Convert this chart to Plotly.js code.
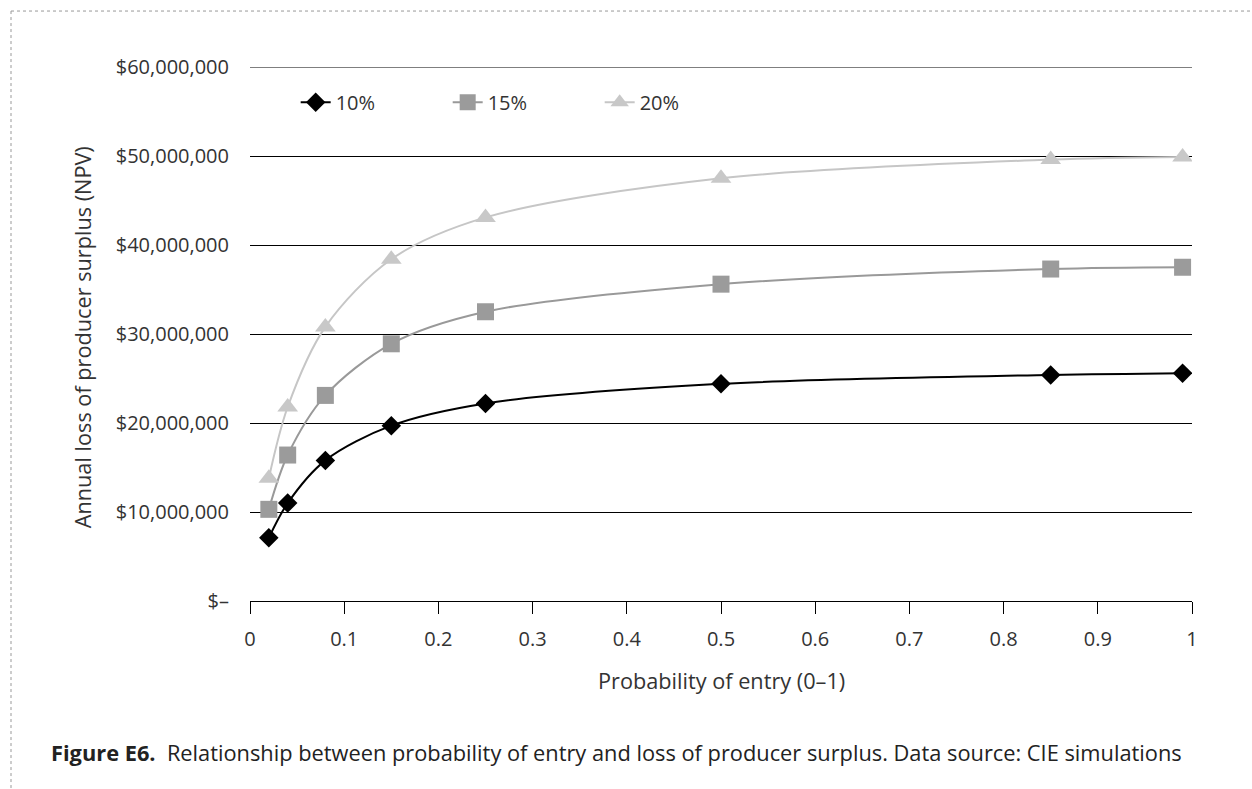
<!DOCTYPE html>
<html>
<head>
<meta charset="utf-8">
<script src="https://cdn.plot.ly/plotly-3.0.1.min.js"></script>
<style>html,body{margin:0;padding:0;background:#fff;}#chart{width:1252px;height:789px;}</style>
</head>
<body>
<div id="chart"></div>
<script>
const probability = [0.02, 0.04, 0.08, 0.15, 0.25, 0.5, 0.85, 0.99];
const loss10 = [7.1e6, 11.0e6, 15.8e6, 19.7e6, 22.2e6, 24.4e6, 25.4e6, 25.6e6];
const loss15 = [10.3e6, 16.4e6, 23.1e6, 28.9e6, 32.5e6, 35.6e6, 37.3e6, 37.5e6];
const loss20 = [13.8e6, 21.8e6, 30.8e6, 38.4e6, 43.1e6, 47.5e6, 49.6e6, 49.9e6];
const seriesNames = ['10%', '15%', '20%'];
const yTickVals = [0, 1e7, 2e7, 3e7, 4e7, 5e7, 6e7];
const yTickText = ['$–', '$10,000,000', '$20,000,000', '$30,000,000', '$40,000,000', '$50,000,000', '$60,000,000'];
const xTickVals = [0, 0.1, 0.2, 0.3, 0.4, 0.5, 0.6, 0.7, 0.8, 0.9, 1];
const xTickText = ['0', '0.1', '0.2', '0.3', '0.4', '0.5', '0.6', '0.7', '0.8', '0.9', '1'];

const FONT = '"Open Sans", "Noto Sans", sans-serif';
const styles = [
  {line: '#000000', marker: '#000000', symbol: 'diamond', size: 15},
  {line: '#999999', marker: '#9b9b9b', symbol: 'square', size: 17},
  {line: '#c6c6c6', marker: '#c8c8c8', symbol: 'triangle-up', size: 18}
];
const ys = [loss10, loss15, loss20];
const traces = ys.map((y, i) => ({
  x: probability, y: y, name: seriesNames[i], type: 'scatter', mode: 'lines+markers',
  line: {color: styles[i].line, width: 2, shape: 'spline', smoothing: 0.9},
  marker: {color: styles[i].marker, symbol: styles[i].symbol, size: styles[i].size, line: {width: 0}}
}));

const layout = {
  width: 1252, height: 789,
  margin: {l: 250, r: 60, t: 67, b: 188},
  paper_bgcolor: '#fff', plot_bgcolor: '#fff',
  font: {family: FONT, color: '#333', size: 20},
  showlegend: true,
  legend: {orientation: 'h', x: 0.0485, y: 0.934, xanchor: 'left', yanchor: 'middle',
    font: {family: FONT, size: 20, color: '#333'}, bgcolor: 'rgba(0,0,0,0)',
    entrywidth: 107, entrywidthmode: 'pixels', traceorder: 'normal'},
  xaxis: {range: [0, 1], tickvals: xTickVals, ticktext: xTickText, showgrid: false, zeroline: false,
    showline: true, linecolor: '#000', linewidth: 1, ticks: 'outside', ticklen: 12, tickcolor: '#000',
    ticklabelstandoff: 8,
    tickfont: {family: FONT, size: 20, color: '#333'}, fixedrange: true},
  yaxis: {range: [0, 6e7], tickvals: yTickVals, ticktext: yTickText, showgrid: true, gridcolor: '#000', gridwidth: 1,
    zeroline: false, showline: false, ticks: '', ticklabelstandoff: 20,
    tickfont: {family: FONT, size: 20, color: '#333'}, fixedrange: true},
  annotations: [
    {text: 'Annual loss of producer surplus (NPV)', xref: 'paper', yref: 'paper', x: -0.1783, y: 0.494,
      textangle: -90, showarrow: false, xanchor: 'center', yanchor: 'middle', font: {family: FONT, size: 21.7, color: '#333'}},
    {text: 'Probability of entry (0–1)', xref: 'paper', yref: 'paper', x: 0.5, y: -0.1498,
      showarrow: false, xanchor: 'center', yanchor: 'middle', font: {family: FONT, size: 21.7, color: '#333'}},
    {text: '<b>Figure E6.</b>  Relationship between probability of entry and loss of producer surplus. Data source: CIE simulations',
      xref: 'paper', yref: 'paper', x: -0.2134, y: -0.2846, showarrow: false, xanchor: 'left', yanchor: 'middle',
      font: {family: FONT, size: 21.8, color: '#222'}}
  ],
  shapes: [
    {type: 'line', xref: 'paper', yref: 'y', x0: 0, x1: 1, y0: 6e7, y1: 6e7, line: {color: '#000', width: 1}},
    {type: 'line', xref: 'paper', yref: 'paper', x0: -0.2537, x1: 1.07, y0: 1.1048, y1: 1.1048,
      line: {color: '#999', width: 1, dash: 'dot'}},
    {type: 'line', xref: 'paper', yref: 'paper', x0: -0.2537, x1: -0.2537, y0: 1.1048, y1: -0.36,
      line: {color: '#999', width: 1, dash: 'dot'}}
  ]
};
Plotly.newPlot('chart', traces, layout, {displayModeBar: false, staticPlot: true});
</script>
</body>
</html>
